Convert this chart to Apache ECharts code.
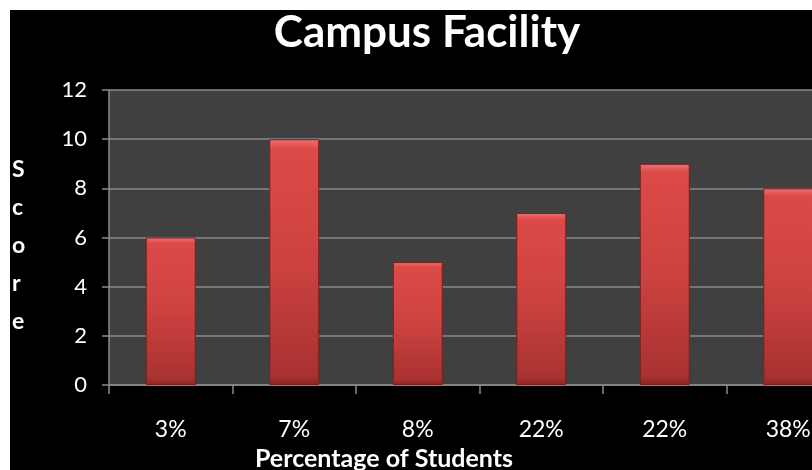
<!DOCTYPE html>
<html lang="en">
<head>
    <meta charset="UTF-8">
    <title>Campus Facility</title>
    <script src="https://cdn.jsdelivr.net/npm/echarts@6/dist/echarts.min.js"></script>
    <style>
        html, body { margin: 0; padding: 0; background: #fff; overflow: hidden; width: 812px; height: 470px; }
        /* the plot runs past the right edge of the picture, so the div is wider than the window */
        #chart {
            position: absolute;
            left: 10px;
            top: 10px;
            width: 840px;
            height: 460px;
        }
    </style>
</head>
<body>
<div id="chart"></div>

<script>
    // 数据
    const categories = ['3%', '7%', '8%', '22%', '22%', '38%'];
    const scores = [6, 10, 5, 7, 9, 8];
    const yTicks = { min: 0, max: 12, interval: 2 };

    const chart = echarts.init(document.getElementById('chart'));

    const barColor = new echarts.graphic.LinearGradient(0, 0, 0, 1, [
        { offset: 0, color: '#f07070' },
        { offset: 0.04, color: '#dc4a48' },
        { offset: 0.5, color: '#cc4240' },
        { offset: 0.96, color: '#a83230' },
        { offset: 1, color: '#8c2422' }
    ]);

    const option = {
        backgroundColor: '#000',
        animation: false,
        title: {
            text: 'Campus Facility',
            left: 412,
            top: -4,
            textAlign: 'center',
            textStyle: {
                color: '#fff',
                fontFamily: 'Lato',
                fontWeight: 'bold',
                fontSize: 44
            }
        },
        grid: {
            left: 99,
            top: 80,
            right: 0,
            bottom: 85,
            show: true,
            backgroundColor: '#404040',
            borderWidth: 0
        },
        xAxis: {
            type: 'category',
            data: categories,
            axisLine: { lineStyle: { color: '#8a8a8a', width: 1.5 } },
            axisTick: { show: true, length: 9, lineStyle: { color: '#8a8a8a', width: 1.5 } },
            axisLabel: {
                color: '#fff',
                fontFamily: 'Lato',
                fontSize: 23,
                margin: 33
            }
        },
        yAxis: {
            type: 'value',
            min: yTicks.min,
            max: yTicks.max,
            interval: yTicks.interval,
            axisLine: { show: true, lineStyle: { color: '#8a8a8a', width: 1.5 } },
            axisTick: { show: true, length: 7, lineStyle: { color: '#8a8a8a', width: 1.5 } },
            splitLine: { lineStyle: { color: '#8a8a8a', width: 1.5 } },
            axisLabel: {
                color: '#fff',
                fontFamily: 'Lato',
                fontSize: 22,
                margin: 22
            }
        },
        graphic: [
            {
                type: 'text',
                left: 2,
                top: 141,
                style: {
                    text: 'S\nc\no\nr\ne',
                    fill: '#fff',
                    font: 'bold 23px Lato',
                    lineHeight: 38
                }
            },
            {
                type: 'text',
                x: 374,
                y: 449,
                style: {
                    text: 'Percentage of Students',
                    fill: '#fff',
                    font: 'bold 25px Lato',
                    textAlign: 'center',
                    textVerticalAlign: 'middle'
                }
            }
        ],
        series: [{
            type: 'bar',
            data: scores,
            barWidth: 50,
            itemStyle: {
                color: barColor,
                borderColor: '#7a1e1c',
                borderWidth: 1
            }
        }]
    };

    chart.setOption(option);
</script>
</body>
</html>
